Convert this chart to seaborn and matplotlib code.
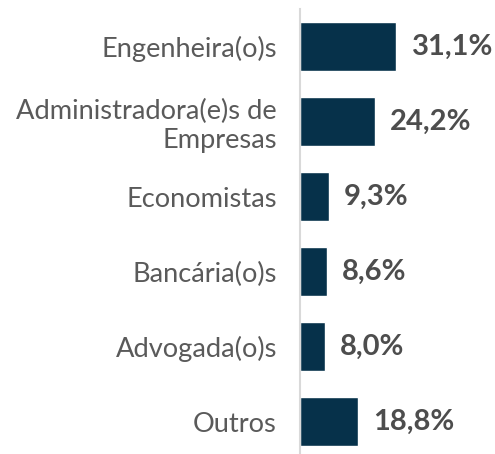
import matplotlib
matplotlib.use("Agg")
import matplotlib.pyplot as plt
import seaborn as sns
import pandas as pd

categorias = ["Engenheira(o)s", "Administradora(e)s de\nEmpresas", "Economistas",
              "Bancária(o)s", "Advogada(o)s", "Outros"]
valores = [31.1, 24.2, 9.3, 8.6, 8.0, 18.8]
rotulos = ["31,1%", "24,2%", "9,3%", "8,6%", "8,0%", "18,8%"]

sns.set_style("white")
plt.rcParams['font.family'] = ['Lato', 'DejaVu Sans']

df = pd.DataFrame({"cat": categorias, "val": valores})

fig = plt.figure(figsize=(4.95, 4.54), dpi=100)
ax = fig.add_axes([300/495, 0, 195/495, 445/454])

sns.barplot(data=df, y="cat", x="val", color="#06314a", saturation=1,
            width=0.65, ax=ax, orient="h")

for i, (v, r) in enumerate(zip(valores, rotulos)):
    ax.text(v + 5.0, i, r, va="center", ha="left", fontsize=21,
            fontweight="bold", color="#4d4d4d")

ax.set_xlim(0, 195/3.09)
ax.set_ylim(5.43, -0.5)
ax.set_xlabel("")
ax.set_ylabel("")
ax.set_xticks([])
for s in ["top", "right", "bottom"]:
    ax.spines[s].set_visible(False)
ax.spines["left"].set_color("#d9d9d9")
ax.spines["left"].set_linewidth(1.5)
ax.tick_params(axis="y", length=0, pad=16.5, labelsize=19.6, labelcolor="#5a5a5a")
for t in ax.get_yticklabels():
    t.set_horizontalalignment("right")

fig.savefig("out.png", dpi=100)
